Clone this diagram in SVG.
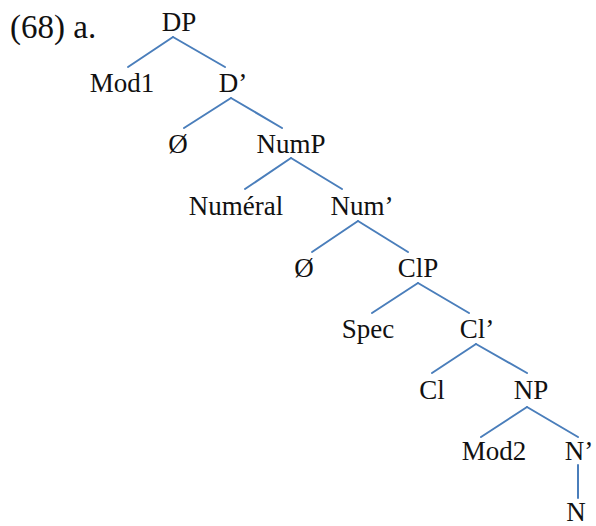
<svg xmlns="http://www.w3.org/2000/svg" width="596" height="526" viewBox="0 0 596 526">
<style>
text{font-family:"Liberation Serif","Times New Roman",serif;font-size:27px;fill:#111;text-anchor:middle}
.lbl{font-size:33px;text-anchor:start}
#connectors line{stroke:#4A7EBB;stroke-width:2;stroke-linecap:round}
</style>
<rect width="596" height="526" fill="#fff"/>
<text class="lbl" x="10" y="38">(68) a.</text>
<g id="connectors">
<line x1="173" y1="37" x2="128" y2="67"/><line x1="173" y1="37" x2="225" y2="67"/>
<line x1="231" y1="98" x2="184" y2="128"/><line x1="231" y1="98" x2="282" y2="128"/>
<line x1="291" y1="158" x2="245" y2="189"/><line x1="291" y1="158" x2="342" y2="189"/>
<line x1="358" y1="221" x2="312" y2="252"/><line x1="358" y1="221" x2="408" y2="252"/>
<line x1="418" y1="283" x2="372" y2="313"/><line x1="418" y1="283" x2="469" y2="313"/>
<line x1="476" y1="344" x2="432" y2="373"/><line x1="476" y1="344" x2="527" y2="373"/>
<line x1="527" y1="407" x2="481" y2="437"/><line x1="527" y1="407" x2="578" y2="437"/>
<line x1="578" y1="465" x2="578" y2="498"/>
</g>
<g id="DP"><text x="179" y="31">DP</text></g>
<g id="Mod1"><text x="122" y="92">Mod1</text></g>
<g id="Dbar"><text x="233" y="92">D’</text></g>
<g id="D"><text x="178" y="153">Ø</text></g>
<g id="NumP"><text x="291" y="153">NumP</text></g>
<g id="Numeral"><text x="236" y="215">Numéral</text></g>
<g id="Numbar"><text x="362" y="215">Num’</text></g>
<g id="Num"><text x="304" y="277">Ø</text></g>
<g id="ClP"><text x="418" y="277">ClP</text></g>
<g id="Spec"><text x="368" y="338">Spec</text></g>
<g id="Clbar"><text x="477" y="338">Cl’</text></g>
<g id="Cl"><text x="432" y="399">Cl</text></g>
<g id="NP"><text x="531" y="399">NP</text></g>
<g id="Mod2"><text x="494" y="460">Mod2</text></g>
<g id="Nbar"><text x="579" y="460">N’</text></g>
<g id="N"><text x="576" y="521">N</text></g>
</svg>
